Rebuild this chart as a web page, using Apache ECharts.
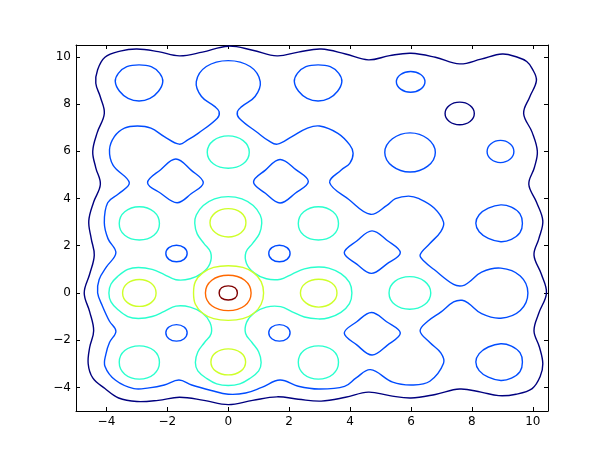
<!DOCTYPE html>
<html lang="en">
  <head>
    <meta charset="UTF-8" />
    <title>Contour</title>
    <script src="https://cdn.jsdelivr.net/npm/echarts@6/dist/echarts.min.js"></script>
    <style>
      html, body { margin: 0; padding: 0; background: #fff; }
    </style>
  </head>

  <body>
    <div id="main" style="width: 609px; height: 457px"></div>
    <script type="text/javascript">
      // tick labels
      const xTicks = [-4, -2, 0, 2, 4, 6, 8, 10];
      const yTicks = [-4, -2, 0, 2, 4, 6, 8, 10];

      // contour levels, low to high (jet colours)
      const levelColors = ["#00007f", "#004cff", "#29ffce", "#ceff29", "#ff6800", "#7f0000"];

      // ---- level 1 (navy) ----
      const navyOuter = [
        [-4.05, 9.98], [-3.55, 10.24], [-3.0, 10.33], [-2.3, 10.22], [-1.6, 10.04], [-0.85, 10.2],
        [0, 10.45], [0.8, 10.28], [1.6, 10.04], [2.3, 10.2], [3.05, 10.33], [3.85, 10.12],
        [4.6, 9.87], [5.3, 10.05], [6.0, 10.15], [6.8, 9.98], [7.6, 9.7], [8.3, 9.9],
        [9.0, 10.12], [9.5, 9.98], [9.8, 9.8],
        [9.98, 9.5], [10.12, 9.0], [9.9, 8.3], [9.7, 7.6], [9.98, 6.8], [10.15, 6.0],
        [10.05, 5.3], [9.87, 4.6], [10.12, 3.85], [10.33, 3.05], [10.2, 2.3], [10.04, 1.6],
        [10.28, 0.8], [10.45, 0], [10.2, -0.85], [10.04, -1.6], [10.22, -2.3], [10.33, -3.0],
        [10.24, -3.55], [9.98, -4.05],
        [9.45, -4.29], [8.88, -4.35], [8.3, -4.2], [7.6, -4.07], [6.8, -4.3], [6.0, -4.45],
        [5.3, -4.35], [4.6, -4.2], [3.85, -4.42], [3.05, -4.58], [2.3, -4.5], [1.6, -4.4],
        [0.8, -4.55], [0, -4.73], [-0.8, -4.55], [-1.6, -4.42], [-2.3, -4.55], [-3.0, -4.6],
        [-3.6, -4.45], [-4.05, -4.05],
        [-4.45, -3.6], [-4.6, -3.0], [-4.55, -2.3], [-4.42, -1.6], [-4.55, -0.8], [-4.73, 0],
        [-4.55, 0.8], [-4.4, 1.6], [-4.5, 2.3], [-4.58, 3.05], [-4.42, 3.85], [-4.2, 4.6],
        [-4.35, 5.3], [-4.45, 6.0], [-4.3, 6.8], [-4.07, 7.6], [-4.2, 8.3], [-4.35, 8.88],
        [-4.29, 9.45],
      ];
      const navyHole = [
        [7.6, 8.08], [7.94, 7.94], [8.08, 7.6], [7.94, 7.26],
        [7.6, 7.12], [7.26, 7.26], [7.12, 7.6], [7.26, 7.94],
      ];

      // ---- level 2 (blue) ----
      const blueMain = [
        [0, 9.84], [0.72, 9.59], [1.05, 8.95], [0.88, 8.32], [0.44, 7.89], [0.3, 7.68],
        [0.36, 7.4], [0.99, 6.76], [1.32, 6.45], [1.61, 6.3], [2.09, 6.62], [2.6, 6.98],
        [3.0, 7.07], [3.6, 6.76], [3.99, 6.27], [4.1, 5.92], [3.99, 5.49], [3.71, 5.21],
        [3.33, 4.67], [3.96, 3.96], [4.67, 3.33], [5.21, 3.71], [5.49, 3.99], [5.92, 4.1],
        [6.27, 3.99], [6.76, 3.6], [7.07, 3.0], [6.98, 2.6], [6.62, 2.09], [6.3, 1.61],
        [6.45, 1.32], [6.76, 0.99], [7.4, 0.36], [7.68, 0.3], [7.89, 0.44], [8.32, 0.88],
        [8.95, 1.05], [9.59, 0.72], [9.84, 0], [9.59, -0.74], [8.95, -1.07], [8.32, -0.88],
        [7.89, -0.44], [7.68, -0.31], [7.4, -0.38], [6.99, -0.8], [6.55, -1.2], [6.3, -1.61],
        [6.62, -2.1], [6.98, -2.54], [7.07, -2.98], [6.62, -3.74], [6.06, -3.9], [5.4, -3.78],
        [4.67, -3.25], [4.2, -3.6], [3.82, -3.96], [2.97, -4.07], [2.3, -3.95], [1.7, -3.69],
        [1.1, -4.0], [0.57, -4.24], [0, -4.29], [-0.56, -4.13], [-1.2, -3.9], [-1.62, -3.69],
        [-2.1, -3.9], [-2.6, -4.02], [-3.1, -4.05], [-3.7, -3.7], [-4.05, -3.1], [-4.02, -2.6],
        [-3.9, -2.1], [-3.69, -1.62], [-3.9, -1.2], [-4.13, -0.56], [-4.29, 0], [-4.24, 0.57],
        [-4.0, 1.1], [-3.69, 1.7], [-3.95, 2.3], [-4.07, 2.97], [-3.96, 3.82], [-3.6, 4.2],
        [-3.25, 4.67], [-3.78, 5.4], [-3.9, 6.06], [-3.74, 6.62], [-3.41, 6.98], [-2.98, 7.07],
        [-2.54, 6.98], [-2.1, 6.62], [-1.61, 6.3], [-1.33, 6.48], [-0.99, 6.76], [-0.36, 7.4],
        [-0.3, 7.68], [-0.44, 7.89], [-0.88, 8.32], [-1.05, 8.95], [-0.72, 9.59],
      ];
      const blueHillA = [ // near (-3, 9)
        [-2.93, 9.66], [-2.53, 9.58], [-2.25, 9.3], [-2.15, 8.95], [-2.29, 8.54], [-2.57, 8.24],
        [-2.93, 8.13], [-3.29, 8.24], [-3.57, 8.54], [-3.71, 8.95], [-3.61, 9.3], [-3.33, 9.58],
      ];
      const blueHillB = [ // near (3, 9)
        [2.95, 9.66], [3.35, 9.58], [3.63, 9.3], [3.73, 8.95], [3.59, 8.54], [3.31, 8.24],
        [2.95, 8.13], [2.59, 8.24], [2.31, 8.54], [2.17, 8.95], [2.27, 9.3], [2.55, 9.58],
      ];
      const blueHillC = [ // near (9, 3)
        [9.66, 2.95], [9.58, 3.35], [9.3, 3.63], [8.95, 3.73], [8.54, 3.59], [8.24, 3.31],
        [8.13, 2.95], [8.24, 2.59], [8.54, 2.31], [8.95, 2.17], [9.3, 2.27], [9.58, 2.55],
      ];
      const blueHillD = [ // near (9, -3)
        [9.66, -2.93], [9.58, -2.53], [9.3, -2.25], [8.95, -2.15], [8.54, -2.29], [8.24, -2.57],
        [8.13, -2.93], [8.24, -3.29], [8.54, -3.57], [8.95, -3.71], [9.3, -3.61], [9.58, -3.33],
      ];
      const blueHillE = [ // near (6, 9)
        [5.99, 9.38], [6.32, 9.25], [6.46, 8.94], [6.32, 8.63],
        [5.99, 8.5], [5.66, 8.63], [5.52, 8.94], [5.66, 9.25],
      ];
      const blueHillF = [ // near (9, 6)
        [9.38, 5.99], [9.25, 6.32], [8.94, 6.46], [8.63, 6.32],
        [8.5, 5.99], [8.63, 5.66], [8.94, 5.52], [9.25, 5.66],
      ];
      const blueHillG = [ // near (6, 6)
        [5.97, 6.78], [6.55, 6.53], [6.8, 5.95], [6.55, 5.37],
        [5.97, 5.12], [5.39, 5.37], [5.14, 5.95], [5.39, 6.53],
      ];
      const blueDipA = [
        [-1.72, 5.67], [-1.22, 5.2], [-0.82, 4.67], [-1.22, 4.2],
        [-1.68, 3.82], [-2.22, 4.22], [-2.65, 4.67], [-2.22, 5.22],
      ];
      const blueDipB = [
        [1.7, 5.65], [2.22, 5.22], [2.63, 4.72], [2.2, 4.22],
        [1.7, 3.81], [1.22, 4.22], [0.83, 4.7], [1.22, 5.2],
      ];
      const blueDipC = [
        [5.65, 1.7], [5.22, 2.22], [4.72, 2.63], [4.22, 2.2],
        [3.81, 1.7], [4.22, 1.22], [4.7, 0.83], [5.2, 1.22],
      ];
      const blueDipD = [
        [5.65, -1.7], [5.22, -2.22], [4.72, -2.63], [4.22, -2.2],
        [3.81, -1.7], [4.22, -1.22], [4.7, -0.83], [5.2, -1.22],
      ];
      const blueSmallA = [
        [-1.7, 2.02], [-1.45, 1.92], [-1.35, 1.67], [-1.45, 1.42],
        [-1.7, 1.32], [-1.95, 1.42], [-2.05, 1.67], [-1.95, 1.92],
      ];
      const blueSmallB = [
        [1.68, 2.02], [1.93, 1.92], [2.03, 1.67], [1.93, 1.42],
        [1.68, 1.32], [1.43, 1.42], [1.33, 1.67], [1.43, 1.92],
      ];
      const blueSmallC = [
        [-1.7, -1.34], [-1.45, -1.44], [-1.35, -1.69], [-1.45, -1.94],
        [-1.7, -2.04], [-1.95, -1.94], [-2.05, -1.69], [-1.95, -1.44],
      ];
      const blueSmallD = [
        [1.68, -1.34], [1.93, -1.44], [2.03, -1.69], [1.93, -1.94],
        [1.68, -2.04], [1.43, -1.94], [1.33, -1.69], [1.43, -1.44],
      ];

      // ---- level 3 (cyan) ----
      const cyanMain = [
        [0, 4.08], [0.45, 3.98], [0.82, 3.7], [1.05, 3.3], [1.1, 2.95], [1.02, 2.5],
        [0.8, 2.1], [0.58, 1.72], [0.6, 1.25], [0.85, 0.85], [1.25, 0.6], [1.72, 0.58],
        [2.1, 0.8], [2.5, 1.02], [2.95, 1.1], [3.3, 1.05], [3.7, 0.82], [3.98, 0.45],
        [4.06, 0], [3.98, -0.45], [3.7, -0.82], [3.3, -1.05], [2.95, -1.1], [2.5, -1.02],
        [2.1, -0.8], [1.72, -0.58], [1.25, -0.6], [0.85, -0.85], [0.6, -1.25], [0.57, -1.72],
        [0.78, -2.1], [1.0, -2.5], [1.08, -2.95], [1.0, -3.3], [0.7, -3.63], [0.38, -3.85],
        [0, -3.92], [-0.38, -3.85], [-0.7, -3.63], [-1.0, -3.3], [-1.08, -2.95], [-1.0, -2.5],
        [-0.78, -2.1], [-0.56, -1.72], [-0.6, -1.25], [-0.85, -0.85], [-1.25, -0.6], [-1.72, -0.56],
        [-2.1, -0.78], [-2.5, -1.0], [-2.95, -1.08], [-3.3, -1.0], [-3.63, -0.7], [-3.85, -0.38],
        [-3.92, 0], [-3.85, 0.38], [-3.63, 0.7], [-3.3, 1.0], [-2.95, 1.08], [-2.5, 1.0],
        [-2.1, 0.78], [-1.72, 0.56], [-1.25, 0.6], [-0.85, 0.85], [-0.6, 1.25], [-0.58, 1.72],
        [-0.8, 2.1], [-1.02, 2.5], [-1.1, 2.95], [-1.05, 3.3], [-0.82, 3.7], [-0.45, 3.98],
      ];
      const cyanTop = [
        [0, 6.65], [0.49, 6.45], [0.69, 5.96], [0.49, 5.47],
        [0, 5.28], [-0.49, 5.47], [-0.69, 5.96], [-0.49, 6.45],
      ];
      const cyanRight = [
        [6.65, 0], [6.45, 0.49], [5.96, 0.69], [5.47, 0.49],
        [5.28, 0], [5.47, -0.49], [5.96, -0.69], [6.45, -0.49],
      ];
      const cyanNW = [
        [-2.92, 3.65], [-2.44, 3.44], [-2.26, 2.94], [-2.44, 2.44],
        [-2.92, 2.24], [-3.4, 2.44], [-3.58, 2.94], [-3.4, 3.44],
      ];
      const cyanNE = [
        [2.96, 3.65], [3.44, 3.44], [3.62, 2.94], [3.44, 2.44],
        [2.96, 2.24], [2.48, 2.44], [2.3, 2.94], [2.48, 3.44],
      ];
      const cyanSW = [
        [-2.92, -2.24], [-2.44, -2.44], [-2.26, -2.94], [-2.44, -3.44],
        [-2.92, -3.65], [-3.4, -3.44], [-3.58, -2.94], [-3.4, -2.44],
      ];
      const cyanSE = [
        [2.96, -2.24], [3.44, -2.44], [3.62, -2.94], [3.44, -3.44],
        [2.96, -3.65], [2.48, -3.44], [2.3, -2.94], [2.48, -2.44],
      ];

      // ---- level 4 (yellow-green) ----
      const yellowMain = [
        [0, 1.15], [0.48, 1.08], [0.84, 0.85], [1.08, 0.48], [1.16, 0], [1.08, -0.48],
        [0.84, -0.86], [0.48, -1.09], [0, -1.16], [-0.48, -1.09], [-0.84, -0.86], [-1.08, -0.48],
        [-1.14, 0], [-1.08, 0.48], [-0.84, 0.85], [-0.48, 1.08],
      ];
      const yellowTop = [
        [0, 3.57], [0.42, 3.4], [0.58, 2.97], [0.42, 2.55],
        [0, 2.37], [-0.42, 2.55], [-0.6, 2.97], [-0.42, 3.4],
      ];
      const yellowRight = [
        [3.57, 0], [3.4, 0.42], [2.97, 0.58], [2.55, 0.42],
        [2.37, 0], [2.55, -0.42], [2.97, -0.6], [3.4, -0.42],
      ];
      const yellowLeft = [
        [-2.92, 0.57], [-2.53, 0.41], [-2.37, 0], [-2.53, -0.41],
        [-2.92, -0.57], [-3.31, -0.41], [-3.47, 0], [-3.31, 0.41],
      ];
      const yellowBottom = [
        [0.57, -2.92], [0.41, -2.53], [0, -2.37], [-0.41, -2.53],
        [-0.57, -2.92], [-0.41, -3.31], [0, -3.47], [0.41, -3.31],
      ];

      // ---- level 5 (orange) and level 6 (dark red) ----
      const orangeMain = [
        [0, 0.75], [0.54, 0.54], [0.75, 0], [0.54, -0.54],
        [0, -0.75], [-0.54, -0.54], [-0.75, 0], [-0.54, 0.54],
      ];
      const redMain = [
        [0, 0.3], [0.22, 0.22], [0.3, 0], [0.22, -0.22],
        [0, -0.3], [-0.22, -0.22], [-0.3, 0], [-0.22, 0.22],
      ];

      const levels = [
        [navyOuter, navyHole],
        [blueMain, blueHillA, blueHillB, blueHillC, blueHillD, blueHillE, blueHillF, blueHillG,
         blueDipA, blueDipB, blueDipC, blueDipD, blueSmallA, blueSmallB, blueSmallC, blueSmallD],
        [cyanMain, cyanTop, cyanRight, cyanNW, cyanNE, cyanSW, cyanSE],
        [yellowMain, yellowTop, yellowRight, yellowLeft, yellowBottom],
        [orangeMain],
        [redMain],
      ];

      const minus = (v) => (v < 0 ? "\u2212" + Math.abs(v) : String(v));

      function makeAxis(ticks, position, showLabels) {
        return {
          type: "value",
          position: position,
          min: -5,
          max: 10.5,
          axisLine: { show: true, onZero: false, lineStyle: { color: "#000", width: 1 } },
          axisTick: { show: true, inside: true, length: 4, customValues: ticks, lineStyle: { color: "#000" } },
          axisLabel: {
            show: showLabels,
            customValues: ticks,
            formatter: minus,
            fontFamily: "DejaVu Sans",
            fontSize: 12,
            color: "#000",
            margin: 5,
          },
          splitLine: { show: false },
        };
      }

      // each closed contour is drawn as a smooth closed polygon via the axes
      function levelSeries(loops, color) {
        return {
          type: "custom",
          coordinateSystem: "cartesian2d",
          silent: true,
          clip: true,
          data: loops.map((loop) => loop[0]),
          renderItem: (params, api) => ({
            type: "polygon",
            shape: {
              points: loops[params.dataIndex].map((p) => api.coord(p)),
              smooth: 0.38,
            },
            style: { fill: "none", stroke: color, lineWidth: 1.4 },
          }),
        };
      }

      let options = {
        backgroundColor: "#fff",
        animation: false,
        grid: { left: 76, right: 61, top: 45, bottom: 46 },
        xAxis: [makeAxis(xTicks, "bottom", true), makeAxis(xTicks, "top", false)],
        yAxis: [makeAxis(yTicks, "left", true), makeAxis(yTicks, "right", false)],
        series: levels.map((loops, i) => levelSeries(loops, levelColors[i])),
      };

      let myChart = echarts.init(document.getElementById("main"));
      myChart.setOption(options);
    </script>
  </body>
</html>
